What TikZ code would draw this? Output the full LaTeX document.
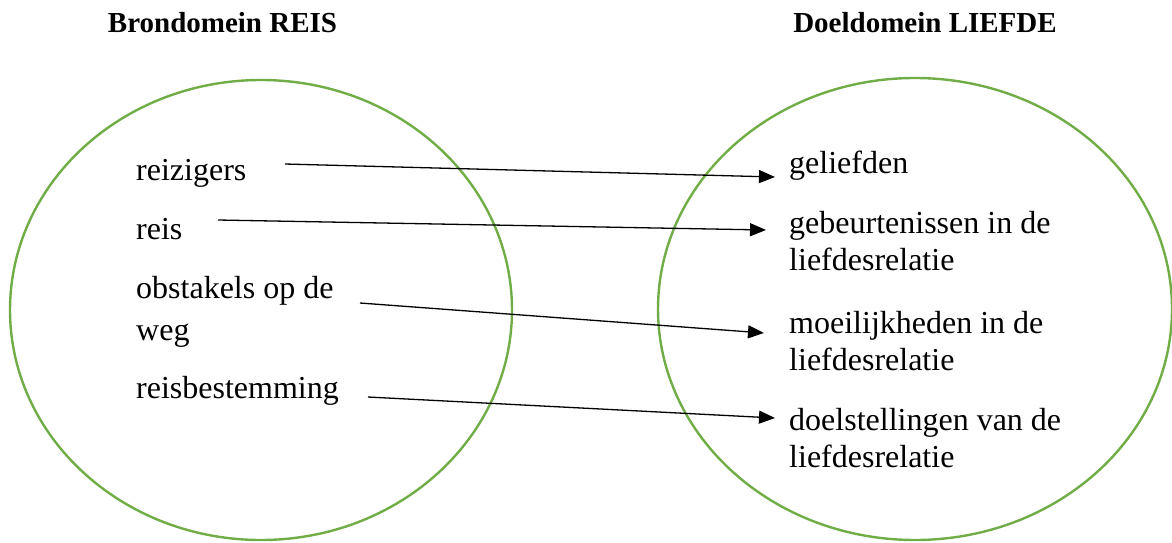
\documentclass[tikz,border=0pt]{standalone}
\usepackage{fontspec}
\setmainfont{Liberation Serif}
\usetikzlibrary{arrows.meta}
\definecolor{dgreen}{HTML}{70AD47}
\begin{document}
\begin{tikzpicture}[x=1pt,y=-1pt,
  domainring/.style={draw=dgreen,line width=2.4pt},
  heading/.style={inner sep=0pt,anchor=base,font=\fontsize{29}{34}\selectfont\bfseries},
  srcitem/.style={inner sep=0pt,anchor=base west,align=left,font=\fontsize{32}{42}\selectfont},
  tgtitem/.style={inner sep=0pt,anchor=base west,align=left,font=\fontsize{32}{37.5}\selectfont},
  maps/.style={line width=1.3pt,-{Triangle[length=16pt,width=13pt]}}]
\useasboundingbox (0,0) rectangle (1172,542);
\draw[domainring] (261,310) ellipse [x radius=251,y radius=230];
\draw[domainring] (915,309) ellipse [x radius=257,y radius=231];
\node[heading] (hsrc) at (222.5,32) {Brondomein REIS};
\node[heading] (htgt) at (925,32) {Doeldomein LIEFDE};
% multi-line nodes are placed by the baseline of their last line
\node[srcitem] (a1) at (136,180) {reizigers};
\node[srcitem] (a2) at (136,239) {reis};
\node[srcitem] (a3) at (136,340) {obstakels op de\\weg};
\node[srcitem] (a4) at (136,398) {reisbestemming};
\node[tgtitem] (b1) at (789,173) {geliefden};
\node[tgtitem] (b2) at (789,270.5) {gebeurtenissen in de\\liefdesrelatie};
\node[tgtitem] (b3) at (789,370.5) {moeilijkheden in de\\liefdesrelatie};
\node[tgtitem] (b4) at (789,467.5) {doelstellingen van de\\liefdesrelatie};
\coordinate (s1) at (285,164);
\coordinate (s2) at (218,220);
\coordinate (s3) at (360,303);
\coordinate (s4) at (368,397);
\coordinate (e1) at (775,177);
\coordinate (e2) at (766,230);
\coordinate (e3) at (764,333);
\coordinate (e4) at (775,418);
\draw[maps] (s1) -- (e1);
\draw[maps] (s2) -- (e2);
\draw[maps] (s3) -- (e3);
\draw[maps] (s4) -- (e4);
\end{tikzpicture}
\end{document}
